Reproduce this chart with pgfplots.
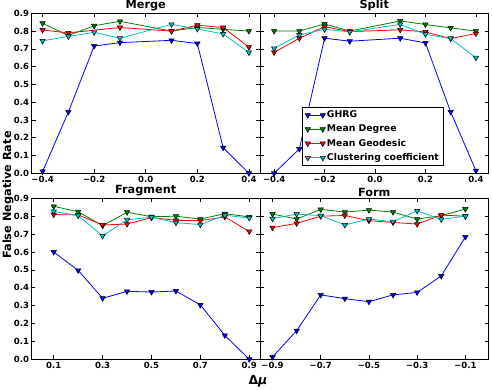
\documentclass[border=0pt]{standalone}
\usepackage{fontspec}
\setmainfont{DejaVu Sans}
\usepackage{pgfplots}
\pgfplotsset{compat=1.18}
\definecolor{mb}{rgb}{0,0,1}
\definecolor{mg}{rgb}{0,0.5,0}
\definecolor{mr}{rgb}{1,0,0}
\definecolor{mc}{rgb}{0,0.75,0.75}
\pgfplotsset{
  ser/.style={color=#1, line width=0.8pt, mark=triangle*, mark size=3.1pt,
    mark options={solid, rotate=180, fill=#1, draw=black, line width=0.5pt}},
  panel/.style={scale only axis, width=228.5pt, height=160pt, anchor=south west,
    ymin=0, ymax=0.9, ytick={0,0.1,0.2,0.3,0.4,0.5,0.6,0.7,0.8,0.9},
    tick align=inside, major tick length=4pt, clip=false,
    axis line style={line width=0.8pt}, tick style={line width=0.6pt, black},
    tick label style={font=\bfseries\fontsize{8.5}{8.5}\selectfont},
    every axis title shift=0pt,
    title style={font=\bfseries\fontsize{11.3}{12}\selectfont, at={(0.5,1)}, anchor=south, yshift=0.8pt, inner sep=1pt},
    xticklabel style={yshift=1pt},
    yticklabel style={xshift=1pt}},
  leftp/.style={yticklabels={0.0,0.1,0.2,0.3,0.4,0.5,0.6,0.7,0.8,0.9}},
  rightp/.style={yticklabels={}},
}
\begin{document}
\begin{tikzpicture}
\path[use as bounding box] (0,0) rectangle (492pt,390pt);
% Merge
\begin{axis}[panel, leftp, at={(31.5pt,216.7pt)}, title={Merge},
  xmin=-0.443, xmax=0.443, xtick={-0.4,-0.2,0,0.2,0.4},
  xticklabels={−0.4,−0.2,0.0,0.2,0.4}]
\addplot[ser=mb] coordinates {(-0.4,0.01) (-0.3,0.345) (-0.2,0.716) (-0.1,0.735) (0.1,0.748) (0.2,0.73) (0.3,0.144) (0.4,0.0)};
\addplot[ser=mg] coordinates {(-0.4,0.844) (-0.3,0.775) (-0.2,0.83) (-0.1,0.855) (0.1,0.80) (0.2,0.82) (0.3,0.81) (0.4,0.80)};
\addplot[ser=mr] coordinates {(-0.4,0.806) (-0.3,0.79) (-0.1,0.82) (0.1,0.80) (0.2,0.833) (0.3,0.82) (0.4,0.71)};
\addplot[ser=mc] coordinates {(-0.4,0.745) (-0.3,0.77) (-0.2,0.793) (-0.1,0.76) (0.1,0.838) (0.2,0.812) (0.3,0.784) (0.4,0.68)};
\end{axis}
% Split
\begin{axis}[panel, rightp, at={(260pt,216.7pt)}, title={Split},
  xmin=-0.456, xmax=0.45, xtick={-0.4,-0.2,0,0.2,0.4},
  xticklabels={−0.4,−0.2,0.0,0.2,0.4},
  legend image code/.code={\draw[mark repeat=1,mark phase=1,#1] plot coordinates {(0pt,0pt) (15pt,0pt)};},
  legend style={at={(0.183,0.046)}, anchor=south west, draw=black, line width=0.6pt, fill=white,
    font=\bfseries\fontsize{9.3}{9.3}\selectfont, inner xsep=3pt, inner ysep=2pt, row sep=2.8pt,
    nodes={inner sep=1.5pt}},
  legend cell align=left]
\addplot[ser=mb] coordinates {(-0.4,0.0) (-0.3,0.137) (-0.2,0.76) (-0.1,0.743) (0.1,0.76) (0.2,0.733) (0.3,0.345) (0.4,0.015)};
\addplot[ser=mg] coordinates {(-0.4,0.80) (-0.3,0.80) (-0.2,0.84) (-0.1,0.80) (0.1,0.857) (0.2,0.837) (0.3,0.818) (0.4,0.80)};
\addplot[ser=mr] coordinates {(-0.4,0.68) (-0.3,0.76) (-0.2,0.825) (-0.1,0.797) (0.1,0.807) (0.2,0.795) (0.3,0.758) (0.4,0.786)};
\addplot[ser=mc] coordinates {(-0.4,0.703) (-0.3,0.778) (-0.2,0.81) (-0.1,0.795) (0.1,0.838) (0.2,0.782) (0.3,0.758) (0.4,0.65)};
\legend{GHRG,Mean Degree,Mean Geodesic,Clustering coefficient}
\end{axis}
% Fragment
\begin{axis}[panel, leftp, at={(31.5pt,30.7pt)}, height=161pt, title={Fragment},
  xmin=0.009, xmax=0.944, xtick={0.1,0.3,0.5,0.7,0.9},
  xticklabels={0.1,0.3,0.5,0.7,0.9}]
\addplot[ser=mb] coordinates {(0.1,0.60) (0.2,0.497) (0.3,0.341) (0.4,0.38) (0.5,0.376) (0.6,0.382) (0.7,0.304) (0.8,0.134) (0.9,0.0)};
\addplot[ser=mg] coordinates {(0.1,0.855) (0.2,0.825) (0.3,0.747) (0.4,0.822) (0.5,0.797) (0.6,0.80) (0.7,0.784) (0.8,0.814) (0.9,0.796)};
\addplot[ser=mr] coordinates {(0.1,0.809) (0.2,0.807) (0.3,0.751) (0.4,0.756) (0.5,0.792) (0.6,0.777) (0.7,0.775) (0.8,0.796) (0.9,0.715)};
\addplot[ser=mc] coordinates {(0.1,0.827) (0.2,0.803) (0.3,0.69) (0.4,0.78) (0.5,0.794) (0.6,0.764) (0.7,0.753) (0.8,0.805) (0.9,0.79)};
\end{axis}
% Form
\begin{axis}[panel, rightp, at={(260pt,30.7pt)}, height=161pt, title={Form},
  xmin=-0.952, xmax=-0.004, xtick={-0.9,-0.7,-0.5,-0.3,-0.1},
  xticklabels={−0.9,−0.7,−0.5,−0.3,−0.1}]
\addplot[ser=mb] coordinates {(-0.9,0.013) (-0.8,0.16) (-0.7,0.36) (-0.6,0.339) (-0.5,0.322) (-0.4,0.36) (-0.3,0.374) (-0.2,0.466) (-0.1,0.684)};
\addplot[ser=mg] coordinates {(-0.9,0.812) (-0.8,0.784) (-0.7,0.838) (-0.6,0.823) (-0.5,0.834) (-0.4,0.823) (-0.3,0.784) (-0.2,0.803) (-0.1,0.84)};
\addplot[ser=mr] coordinates {(-0.9,0.736) (-0.8,0.76) (-0.7,0.80) (-0.6,0.804) (-0.5,0.775) (-0.4,0.765) (-0.3,0.756) (-0.2,0.806) (-0.1,0.80)};
\addplot[ser=mc] coordinates {(-0.9,0.786) (-0.8,0.812) (-0.7,0.803) (-0.6,0.751) (-0.5,0.784) (-0.4,0.769) (-0.3,0.83) (-0.2,0.782) (-0.1,0.80)};
\end{axis}
\node[rotate=90, font=\bfseries\fontsize{11.3}{12}\selectfont] at (8pt,195pt) {False Negative Rate};
\node[font=\bfseries\fontsize{12.5}{13}\selectfont] at (258pt,8.5pt) {Δ\textit{μ}};
\end{tikzpicture}
\end{document}
